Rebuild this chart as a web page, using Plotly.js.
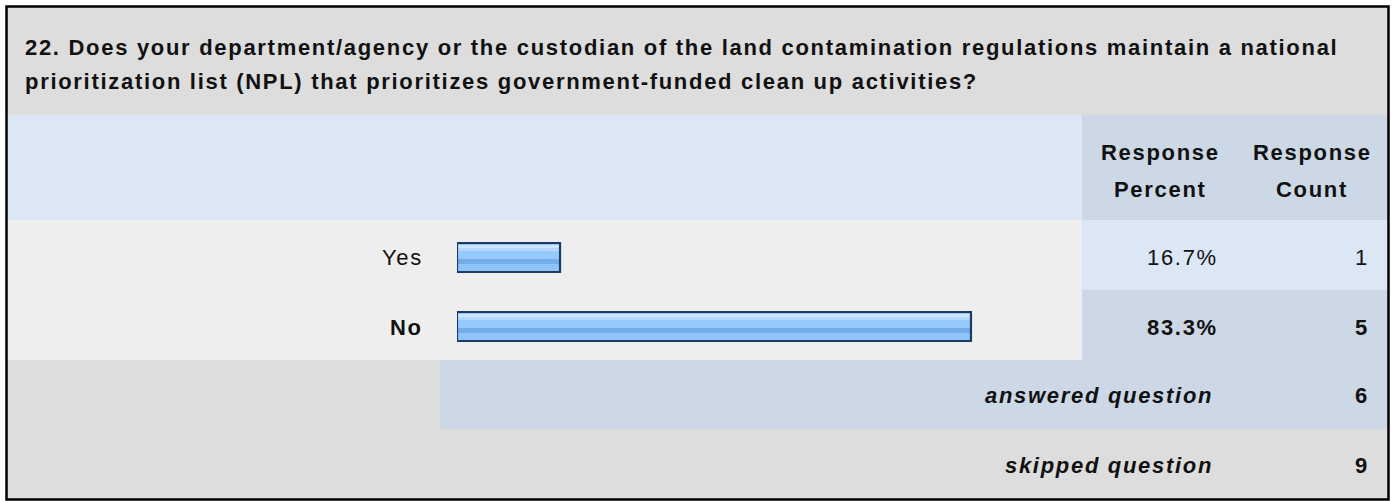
<!DOCTYPE html>
<html>
<head>
<meta charset="utf-8">
<script src="https://cdn.plot.ly/plotly-3.0.1.min.js"></script>
<style>
html,body{margin:0;padding:0;background:#fff;}
#chart{width:1394px;height:501px;}
svg text{letter-spacing:1.7px;}
</style>
</head>
<body>
<div id="chart"></div>
<script>
// ---- data ----
const titleLines = [
  "22. Does your department/agency or the custodian of the land contamination regulations maintain a national",
  "prioritization list (NPL) that prioritizes government-funded clean up activities?"
];
const categories = ["Yes", "No"];
const responsePercent = [16.7, 83.3];
const responseCount = [1, 5];
const answeredQuestion = 6;
const skippedQuestion = 9;
const headerPercent = ["Response", "Percent"];
const headerCount = ["Response", "Count"];

// ---- helpers ----
const W = 1394, H = 501;
const px = x => x / W;
const py = y => 1 - y / H;
const FONT = '"Liberation Sans", Arial, Helvetica, sans-serif';

function rect(x0, y0, x1, y1, color) {
  return {type: 'rect', xref: 'paper', yref: 'paper', layer: 'below',
    x0: px(x0), x1: px(x1), y0: py(y1), y1: py(y0),
    fillcolor: color, line: {width: 0}};
}

const C_GRAY = '#dddddd', C_ROW = '#eeeeee', C_LB = '#dce7f5', C_DB = '#ccd8e6';

const shapes = [
  rect(6, 6, 1388, 115, C_GRAY),
  rect(6, 115, 1082, 220, C_LB),
  rect(1082, 115, 1388, 220, C_DB),
  rect(6, 220, 1082, 290, C_ROW),
  rect(1082, 220, 1388, 290, C_LB),
  rect(6, 290, 1082, 360, C_ROW),
  rect(1082, 290, 1388, 360, C_DB),
  rect(6, 360, 440, 429, C_GRAY),
  rect(440, 360, 1388, 429, C_DB),
  rect(6, 429, 1388, 499, C_GRAY),
  {type: 'rect', xref: 'paper', yref: 'paper', layer: 'above',
   x0: px(6.5), x1: px(1388.5), y0: py(499.5), y1: py(6.5),
   fillcolor: 'rgba(0,0,0,0)', line: {color: '#000', width: 2.5}}
];

// ---- bars (gradient simulated by stacked stripes of the same bars) ----
const UNIT = 69;              // px per category step
const BAR_PX = 29;            // bar thickness in px
const half = BAR_PX / 2 / UNIT;
function stripe(t0, t1, color) {
  return {type: 'bar', orientation: 'h', x: responsePercent, y: categories,
    width: (t1 - t0) / UNIT, offset: -half + t0 / UNIT,
    marker: {color: color, line: {width: 0}}, hoverinfo: 'skip', showlegend: false};
}
const traces = [
  stripe(0, BAR_PX, '#91c6fb'),
  stripe(1.5, 4.5, '#cde5ff'),
  stripe(4.5, 8, '#b3d7ff'),
  stripe(8, 16, '#97cafc'),
  stripe(16, 21, '#73aceb'),
  stripe(21, 27.5, '#8ec4fa'),
  {type: 'bar', orientation: 'h', x: responsePercent, y: categories,
   width: BAR_PX / UNIT, offset: -half,
   marker: {color: 'rgba(0,0,0,0)', line: {color: '#1d3a63', width: 2.2}},
   hoverinfo: 'skip', showlegend: false}
];

// ---- text ----
const annotations = [];
function txt(text, x, y, xanchor, size, opts) {
  annotations.push(Object.assign({
    text: text, xref: 'paper', yref: 'paper', x: px(x), y: py(y),
    xanchor: xanchor, yanchor: 'middle', showarrow: false,
    font: {family: FONT, size: size, color: '#111'}
  }, opts || {}));
}
txt('<b>' + titleLines[0] + '</b>', 23, 47.5, 'left', 22);
txt('<b>' + titleLines[1] + '</b>', 23, 81.5, 'left', 22);
txt('<b>' + headerPercent[0] + '</b>', 1160, 152, 'center', 22);
txt('<b>' + headerPercent[1] + '</b>', 1160, 189, 'center', 22);
txt('<b>' + headerCount[0] + '</b>', 1312, 152, 'center', 22);
txt('<b>' + headerCount[1] + '</b>', 1312, 189, 'center', 22);

const rowY = [257, 327];
categories.forEach((c, i) => {
  const b = i === 1;
  const w = s => b ? '<b>' + s + '</b>' : s;
  txt(w(c), 425, rowY[i], 'right', 22);
  txt(w(responsePercent[i].toFixed(1) + '%'), 1220, rowY[i], 'right', 22);
  txt(w(String(responseCount[i])), 1371, rowY[i], 'right', 22);
});
txt('<b><i>answered question</i></b>', 1215, 395, 'right', 22);
txt('<b>' + answeredQuestion + '</b>', 1371, 395, 'right', 22);
txt('<b><i>skipped question</i></b>', 1215, 465, 'right', 22);
txt('<b>' + skippedQuestion + '</b>', 1371, 465, 'right', 22);

const layout = {
  width: W, height: H,
  margin: {l: 0, r: 0, t: 0, b: 0, pad: 0},
  paper_bgcolor: '#ffffff', plot_bgcolor: 'rgba(0,0,0,0)',
  barmode: 'overlay', bargap: 0,
  showlegend: false,
  xaxis: {domain: [px(457), px(1074)], range: [0, 100], visible: false, fixedrange: true},
  yaxis: {domain: [py(223 + 2 * UNIT), py(223)], type: 'category',
    categoryarray: categories, range: [1.5, -0.5], visible: false, fixedrange: true},
  shapes: shapes,
  annotations: annotations,
  font: {family: FONT}
};

Plotly.newPlot('chart', traces, layout, {staticPlot: true, displayModeBar: false});
</script>
</body>
</html>
